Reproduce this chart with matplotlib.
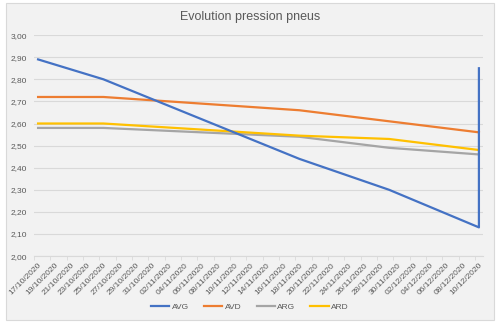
import matplotlib
matplotlib.use("Agg")
import matplotlib.pyplot as plt
import matplotlib.dates as mdates
import numpy as np
from datetime import date, timedelta

dates_main = ["2020-10-17", "2020-10-25", "2020-11-18", "2020-11-29", "2020-12-10"]
avg_dates = dates_main + ["2020-12-10"]
avg = [2.89, 2.80, 2.44, 2.30, 2.13, 2.85]
avd = [2.72, 2.72, 2.66, 2.61, 2.56]
arg = [2.58, 2.58, 2.54, 2.49, 2.46]
ard = [2.60, 2.60, 2.545, 2.53, 2.48]
series_names = ["AVG", "AVD", "ARG", "ARD"]
colors = ["#4472C4", "#ED7D31", "#A5A5A5", "#FFC000"]
y_ticks = [2.0, 2.1, 2.2, 2.3, 2.4, 2.5, 2.6, 2.7, 2.8, 2.9, 3.0]
title = "Evolution pression pneus"

plt.rcParams['font.family'] = ['Liberation Sans', 'DejaVu Sans']
txt = "#595959"

def to_num(ds):
    return mdates.datestr2num(ds)

fig = plt.figure(figsize=(5, 3.25), dpi=100)
fig.patch.set_facecolor("white")
# chart background
bg = plt.Rectangle((0.012, 0.015), 0.976, 0.975, transform=fig.transFigure,
                   facecolor="#F2F2F2", edgecolor="#D9D9D9", linewidth=0.8, zorder=-10)
fig.patches.append(bg)

ax = fig.add_axes([0.068, 0.212, 0.898, 0.68])
ax.set_facecolor("#F2F2F2")

ax.plot(to_num(avg_dates), avg, color=colors[0], lw=1.6, label=series_names[0], zorder=5)
ax.plot(to_num(dates_main), avd, color=colors[1], lw=1.6, label=series_names[1], zorder=3)
ax.plot(to_num(dates_main), arg, color=colors[2], lw=1.6, label=series_names[2], zorder=3)
ax.plot(to_num(dates_main), ard, color=colors[3], lw=1.6, label=series_names[3], zorder=4)

start = to_num("2020-10-17")
end = to_num("2020-12-10")
ax.set_xlim(start - 0.5, end + 0.5)
ax.set_ylim(2.0, 3.0)

ax.set_yticks(y_ticks)
ax.set_yticklabels([f"{v:.2f}".replace(".", ",") for v in y_ticks], fontsize=6, color=txt)
ax.yaxis.grid(True, color="#D9D9D9", lw=0.8)
ax.set_axisbelow(True)

major = np.arange(start, end + 1, 2)
ax.set_xticks(major)
ax.set_xticklabels([mdates.num2date(v).strftime("%d/%m/%Y") for v in major],
                   rotation=45, ha="right", rotation_mode="anchor", fontsize=6, color=txt)
ax.tick_params(axis="x", which="major", length=0, pad=4)
ax.set_xticks(np.arange(start - 0.5, end + 1, 2), minor=True)
ax.tick_params(axis="x", which="minor", length=3, color="#D9D9D9")
ax.tick_params(axis="y", length=0, pad=5)

for s in ["top", "right", "left"]:
    ax.spines[s].set_visible(False)
ax.spines["bottom"].set_color("#D9D9D9")

fig.text(0.5, 0.948, title, ha="center", va="center", fontsize=9, color=txt)

fig.legend(loc="center", bbox_to_anchor=(0.5, 0.055), ncol=4, frameon=False,
           fontsize=6, handlelength=2.2, columnspacing=1.8, handletextpad=0.3,
           labelcolor=txt)

fig.savefig("out.png", dpi=100, facecolor="white")
